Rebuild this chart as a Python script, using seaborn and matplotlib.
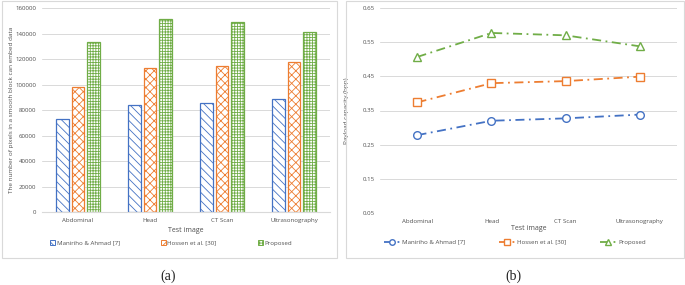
import matplotlib
matplotlib.use("Agg")
import matplotlib.pyplot as plt
import seaborn as sns
import pandas as pd
from matplotlib.patches import Rectangle, Patch
from matplotlib.lines import Line2D

categories = ["Abdominal", "Head", "CT Scan", "Ultrasonography"]
series = ["Maniriho & Ahmad [7]", "Hossen et al. [30]", "Proposed"]
pixels_maniriho = [73500, 84500, 86000, 88800]
pixels_hossen = [98000, 112800, 114700, 117800]
pixels_proposed = [133300, 151300, 149500, 141100]
bpp_maniriho = [0.278, 0.320, 0.327, 0.338]
bpp_hossen = [0.374, 0.430, 0.436, 0.449]
bpp_proposed = [0.507, 0.577, 0.570, 0.538]
bar_ticks = [0, 20000, 40000, 60000, 80000, 100000, 120000, 140000, 160000]
line_ticks = [0.05, 0.15, 0.25, 0.35, 0.45, 0.55, 0.65]

colors = ["#4472C4", "#ED7D31", "#70AD47"]
hatches = ["\\\\\\\\", "xxxx", "++++++"]
txt = "#505050"
grid = "#D9D9D9"
fs = 4.4

sns.set_theme(style="white")
plt.rcParams["font.family"] = ["Open Sans", "DejaVu Sans"]
plt.rcParams["hatch.linewidth"] = 0.6

fig = plt.figure(figsize=(6.85, 2.85), dpi=100)
W, H = 685, 285

def fx(px):
    return px / W

def fy(py):
    return 1 - py / H

# frames
for x0, x1 in [(1.5, 336.5), (345.5, 683.5)]:
    fig.patches.append(Rectangle((fx(x0), fy(258)), fx(x1 - x0), 257 / H,
                                 transform=fig.transFigure, fill=False,
                                 edgecolor="#D9D9D9", linewidth=0.8))

# ---------- bar chart ----------
ax1 = fig.add_axes([fx(42), fy(212.3), fx(288), (212.3 - 8.3) / H])
df = pd.DataFrame({
    "cat": categories * 3,
    "val": pixels_maniriho + pixels_hossen + pixels_proposed,
    "series": [series[0]] * 4 + [series[1]] * 4 + [series[2]] * 4,
})
sns.barplot(data=df, x="cat", y="val", hue="series", palette=colors,
            width=0.66, gap=0.18, ax=ax1, legend=False)
for cont, c, h in zip(ax1.containers, colors, hatches):
    for p in cont:
        p.set_facecolor("white")
        p.set_edgecolor(c)
        p.set_hatch(h)
        p.set_linewidth(0.9)
ax1.set_ylim(0, 160000)
ax1.set_xlim(-0.5, 3.5)
ax1.set_yticks(bar_ticks)
ax1.set_yticklabels([str(t) for t in bar_ticks])
ax1.grid(axis="y", color=grid, linewidth=0.7)
ax1.set_axisbelow(True)
for s in ["top", "right", "left"]:
    ax1.spines[s].set_visible(False)
ax1.spines["bottom"].set_color(grid)
ax1.spines["bottom"].set_linewidth(0.8)
ax1.tick_params(axis="both", labelsize=fs, colors=txt, length=0, pad=4)
ax1.set_xlabel("Test image", fontsize=fs + 0.6, color=txt, labelpad=3)
ax1.set_ylabel("The number of pixels in a smooth block can embed data",
               fontsize=fs + 0.2, color=txt)
ax1.yaxis.set_label_coords(-0.098, 0.5)
ax1.patch.set_alpha(0)

handles1 = [Patch(facecolor="white", edgecolor=c, hatch=h, linewidth=0.7)
            for c, h in zip(colors, hatches)]
leg1 = fig.legend(handles1, series, loc="center", bbox_to_anchor=(fx(171), fy(243)),
                  ncol=3, frameon=False, fontsize=fs, handlelength=0.8,
                  handleheight=0.8, handletextpad=0.3, columnspacing=6.7)
for t in leg1.get_texts():
    t.set_color(txt)

# ---------- line chart ----------
ax2 = fig.add_axes([fx(380.5), fy(213), fx(296), (213 - 8) / H])
markers = ["o", "s", "^"]
for vals, c, m, name in zip([bpp_maniriho, bpp_hossen, bpp_proposed], colors, markers, series):
    sns.lineplot(x=categories, y=vals, ax=ax2, color=c, marker=m, markersize=5.5,
                 markerfacecolor="white", markeredgecolor=c, markeredgewidth=1.0,
                 linewidth=1.3, linestyle=(0, (5, 2.5, 1, 2.5)), sort=False)
ax2.set_ylim(0.05, 0.65)
ax2.set_xlim(-0.5, 3.5)
ax2.set_yticks(line_ticks)
ax2.set_yticklabels([f"{t:.2f}" for t in line_ticks])
ax2.grid(axis="y", color=grid, linewidth=0.7)
ax2.grid(axis="x", visible=False)
ax2.set_axisbelow(True)
for s in ["top", "right", "left", "bottom"]:
    ax2.spines[s].set_visible(False)
ax2.tick_params(axis="both", labelsize=fs, colors=txt, length=0, pad=4)
ax2.set_xlabel("Test image", fontsize=fs + 0.6, color=txt, labelpad=1)
ax2.set_ylabel("Payload capacity (bpp)", fontsize=fs + 0.2, color=txt)
ax2.yaxis.set_label_coords(-0.105, 0.5)
ax2.patch.set_alpha(0)

handles2 = [Line2D([], [], color=c, marker=m, markersize=4, markerfacecolor="white",
                   markeredgecolor=c, linewidth=1.3, linestyle=(0, (5, 2.5, 1, 2.5)))
            for c, m in zip(colors, markers)]
leg2 = fig.legend(handles2, series, loc="center", bbox_to_anchor=(fx(515), fy(242)),
                  ncol=3, frameon=False, fontsize=fs, handlelength=2.6,
                  handletextpad=0.4, columnspacing=5.5)
for t in leg2.get_texts():
    t.set_color(txt)

# captions
fig.text(fx(168), fy(276), "(a)", ha="center", va="center", fontsize=10,
         family=["Liberation Serif", "DejaVu Serif"], color="#222222")
fig.text(fx(513), fy(276), "(b)", ha="center", va="center", fontsize=10,
         family=["Liberation Serif", "DejaVu Serif"], color="#222222")

fig.savefig("out.png", dpi=100, facecolor="white")
